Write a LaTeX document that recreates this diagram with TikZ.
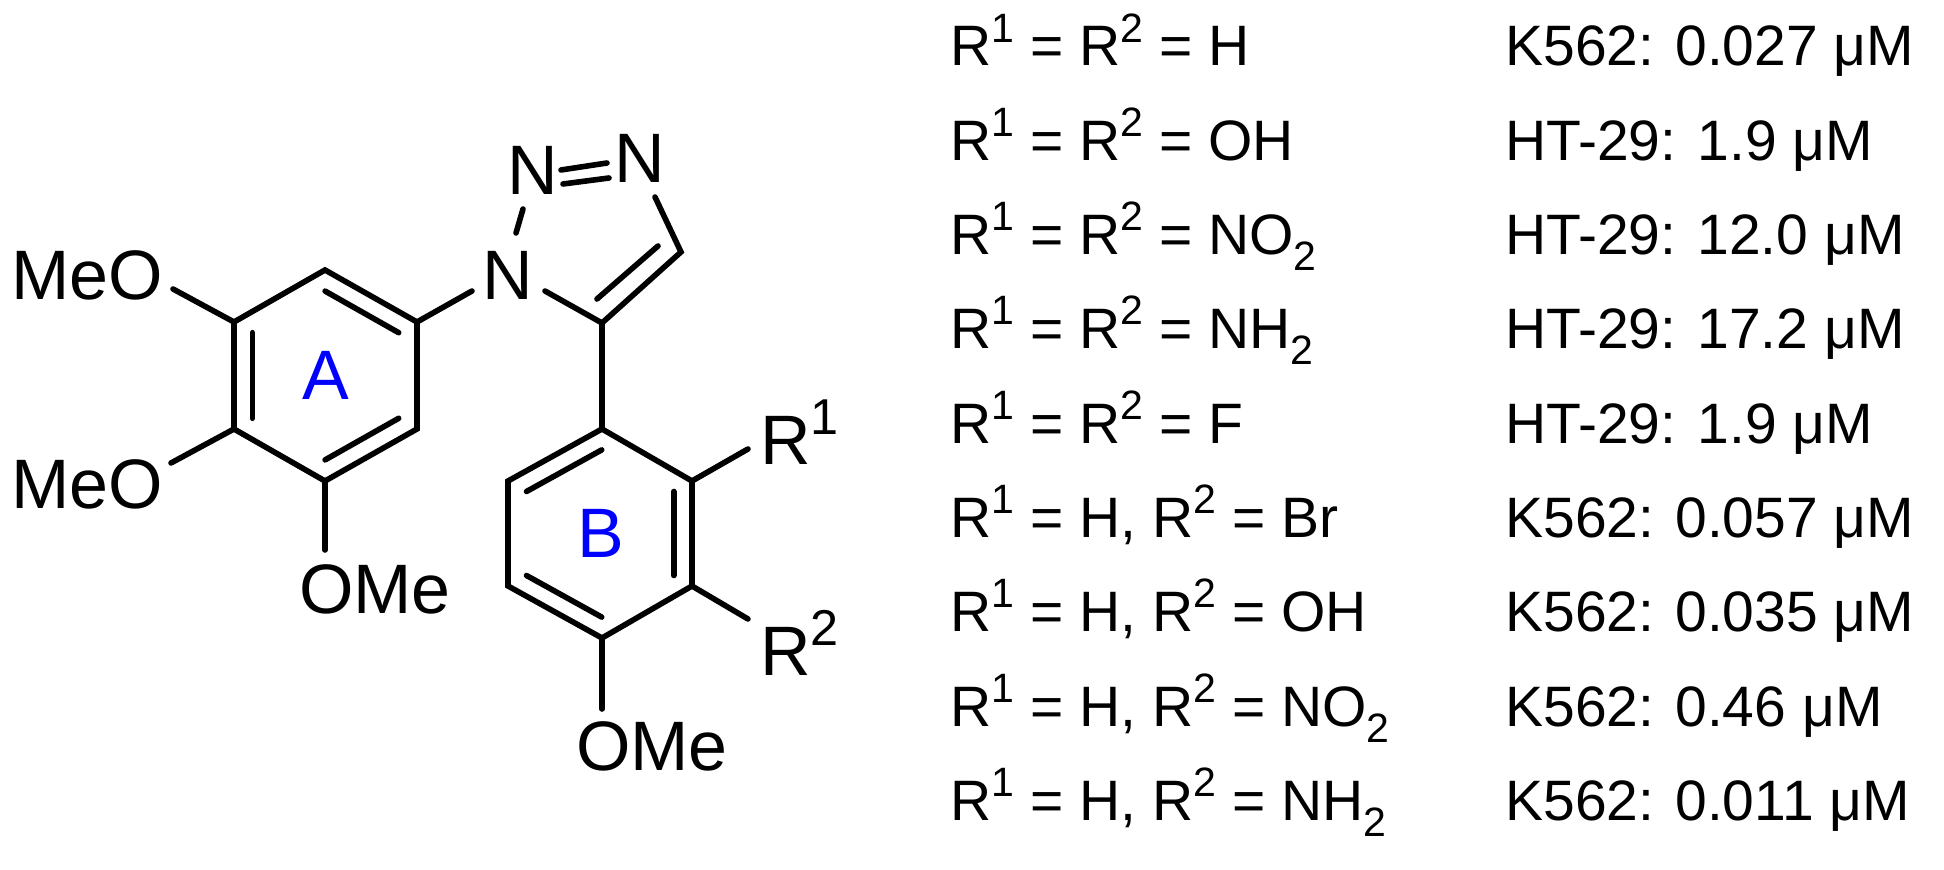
\documentclass[tikz,border=0pt]{standalone}
\usepackage{fontspec}
\setmainfont{Liberation Sans}
\usetikzlibrary{calc}
\newcommand\Sp[1]{\raisebox{0.42em}{\scalebox{0.72}{#1}}}
\newcommand\Sb[1]{\raisebox{-0.28em}{\scalebox{0.72}{#1}}}
\begin{document}
\begin{tikzpicture}[x=0.5pt,y=-0.5pt,
  bond/.style={line width=2.8pt,line cap=round},
  atom/.style={inner sep=0pt,font=\fontsize{35}{40}\selectfont},
  ringlbl/.style={inner sep=0pt,text=blue,font=\fontsize{35}{40}\selectfont},
  row/.style={anchor=west,inner sep=0pt,font=\fontsize{28.5}{32}\selectfont}]
\useasboundingbox (0,0) rectangle (1944,870);
% ring A
\coordinate (a1) at (325,270); \coordinate (a2) at (417,322); \coordinate (a3) at (417,429);
\coordinate (a4) at (325,481); \coordinate (a5) at (234,429); \coordinate (a6) at (234,322);
\coordinate (cA) at (325.5,375.5);
\draw[bond] (a1)--(a2)--(a3)--(a4)--(a5)--(a6)--cycle;
\draw[bond] ($(cA)!0.8!(a1)$)--($(cA)!0.8!(a2)$);
\draw[bond] ($(cA)!0.8!(a3)$)--($(cA)!0.8!(a4)$);
\draw[bond] ($(cA)!0.8!(a5)$)--($(cA)!0.8!(a6)$);
\node[ringlbl] (lA) at (cA) {A};
% substituents A
\node[atom] (o1) at (87,275) {MeO};
\node[atom] (o2) at (87,484) {MeO};
\node[atom] (o3) at (375,589) {OMe};
\coordinate (o1e) at (173,289); \coordinate (o2e) at (171,463); \coordinate (o3e) at (325,550);
\draw[bond] (a6)--(o1e); \draw[bond] (a5)--(o2e); \draw[bond] (a4)--(o3e);
% triazole
\node[atom] (n1) at (508,275) {N};
\node[atom] (n2) at (533,170) {N};
\node[atom] (n3) at (640,158) {N};
\coordinate (c4) at (681,252); \coordinate (c5) at (602,323);
\coordinate (n1a) at (472,291); \coordinate (n1b) at (545,291);
\coordinate (n1c) at (516,233); \coordinate (n2a) at (523,209);
\coordinate (n3a) at (655,197);
\draw[bond] (a2)--(n1a);
\draw[bond] (n1c)--(n2a);
\draw[bond] (561,170)--(607,163);
\draw[bond] (563,184)--(609,178);
\draw[bond] (n3a)--(c4)--(c5)--(n1b);
\draw[bond] (658,246)--(597,299);
% ring B
\coordinate (b1) at (602,429); \coordinate (b2) at (692,481); \coordinate (b3) at (692,586);
\coordinate (b4) at (602,638); \coordinate (b5) at (508,586); \coordinate (b6) at (508,481);
\coordinate (cB) at (600.5,533.5);
\draw[bond] (c5)--(b1);
\draw[bond] (b1)--(b2)--(b3)--(b4)--(b5)--(b6)--cycle;
\draw[bond] ($(cB)!0.8!(b6)$)--($(cB)!0.8!(b1)$);
\draw[bond] ($(cB)!0.8!(b2)$)--($(cB)!0.8!(b3)$);
\draw[bond] ($(cB)!0.8!(b4)$)--($(cB)!0.8!(b5)$);
\node[ringlbl] (lB) at (cB) {B};
\node[atom,anchor=west] (r1) at (760,432) {R\Sp{1}};
\node[atom,anchor=west] (r2) at (760,643) {R\Sp{2}};
\node[atom] (o4) at (652,746) {OMe};
\coordinate (r1e) at (748,449); \coordinate (r2e) at (748,619); \coordinate (o4e) at (602,709);
\draw[bond] (b2)--(r1e); \draw[bond] (b3)--(r2e); \draw[bond] (b4)--(o4e);
% table
\foreach \i/\l/\r in {0/{R\Sp{1} = R\Sp{2} = H}/{K562: 0.027 μM},
 1/{R\Sp{1} = R\Sp{2} = OH}/{HT-29: 1.9 μM},
 2/{R\Sp{1} = R\Sp{2} = NO\Sb{2}}/{HT-29: 12.0 μM},
 3/{R\Sp{1} = R\Sp{2} = NH\Sb{2}}/{HT-29: 17.2 μM},
 4/{R\Sp{1} = R\Sp{2} = F}/{HT-29: 1.9 μM},
 5/{R\Sp{1} = H, R\Sp{2} = Br}/{K562: 0.057 μM},
 6/{R\Sp{1} = H, R\Sp{2} = OH}/{K562: 0.035 μM},
 7/{R\Sp{1} = H, R\Sp{2} = NO\Sb{2}}/{K562: 0.46 μM},
 8/{R\Sp{1} = H, R\Sp{2} = NH\Sb{2}}/{K562: 0.011 μM}}{
  \node[row,anchor=base west] (L\i) at (950,{66+94.3*\i}) {\l};
  \node[row,anchor=base west] (V\i) at (1505,{66+94.3*\i}) {\r};
}
\end{tikzpicture}
\end{document}
